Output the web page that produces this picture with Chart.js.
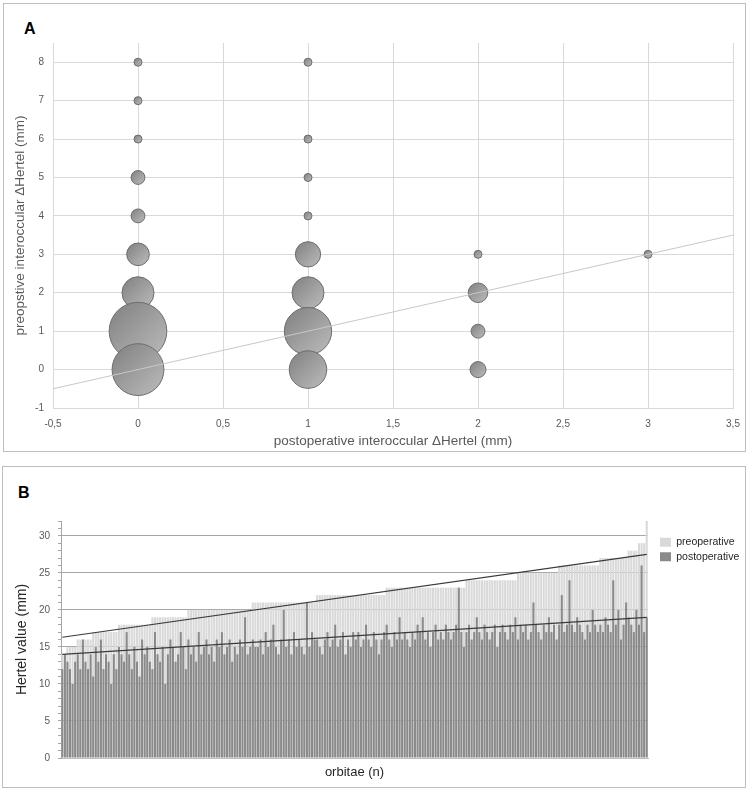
<!DOCTYPE html>
<html>
<head>
<meta charset="utf-8">
<script src="https://cdn.jsdelivr.net/npm/chart.js@4.4.1/dist/chart.umd.min.js"></script>
<style>
  body { margin: 0; background: #fff; width: 749px; height: 792px; position: relative; overflow: hidden; }
  .box { position: absolute; border: 1px solid #bdbdbd; box-sizing: border-box; }
  .tag { position: absolute; font: bold 16px "Liberation Sans Narrow", "Liberation Sans", Arial, sans-serif; line-height: 16px; color: #000; }
  canvas { position: absolute; }
</style>
</head>
<body>
<div class="box" style="left:3px;top:3px;width:743px;height:449px"></div>
<div class="box" style="left:2px;top:466px;width:744px;height:322px"></div>
<div class="tag" style="left:24px;top:21px">A</div>
<div class="tag" style="left:18px;top:485px">B</div>
<canvas id="chartA" width="743" height="449" style="left:3px;top:3px"></canvas>
<canvas id="chartB" width="746" height="320" style="left:3px;top:467px"></canvas>
<script>
Chart.defaults.font.family = "'Liberation Sans', Arial, sans-serif";

// panel A: one bubble per (postoperative, preoperative) interocular difference
const postDiff = [0, 0, 0, 0, 0, 0, 0, 0, 0, 1, 1, 1, 1, 1, 1, 1, 1, 2, 2, 2, 2, 3];
const preDiff  = [8, 7, 6, 5, 4, 3, 2, 1, 0, 8, 6, 5, 4, 3, 2, 1, 0, 3, 2, 1, 0, 3];
const patients = [1, 1, 1, 3, 3, 8, 16, 52, 42, 1, 1, 1, 1, 10, 16, 35, 22, 1, 6, 3, 4, 1];
const fitA = [-0.5, 3.5]; // y = x reference line ends

// panel B: Hertel values per orbit, sorted by preoperative value
const preop = [
  14, 14, 15, 15, 15, 15, 16, 16, 16, 16, 16, 16,
  17, 17, 17, 17, 17, 17, 17, 17, 17, 17,
  18, 18, 18, 18, 18, 18, 18, 18, 18, 18, 18, 18, 18,
  19, 19, 19, 19, 19, 19, 19, 19, 19, 19, 19, 19, 19, 19,
  20, 20, 20, 20, 20, 20, 20, 20, 20, 20, 20, 20, 20, 20, 20, 20, 20, 20, 20, 20, 20, 20, 20, 20, 20,
  21, 21, 21, 21, 21, 21, 21, 21, 21, 21, 21, 21, 21, 21, 21, 21, 21, 21, 21, 21, 21, 21, 21, 21, 21,
  22, 22, 22, 22, 22, 22, 22, 22, 22, 22, 22, 22, 22, 22, 22, 22, 22, 22, 22, 22, 22, 22, 22, 22, 22, 22, 22,
  23, 23, 23, 23, 23, 23, 23, 23, 23, 23, 23, 23, 23, 23, 23, 23, 23, 23, 23, 23, 23, 23, 23, 23, 23, 23, 23, 23, 23, 23, 23,
  24, 24, 24, 24, 24, 24, 24, 24, 24, 24, 24, 24, 24, 24, 24, 24, 24, 24, 24, 24,
  25, 25, 25, 25, 25, 25, 25, 25, 25, 25, 25, 25, 25, 25, 25, 25,
  26, 26, 26, 26, 26, 26, 26, 26, 26, 26, 26, 26, 26, 26, 26, 26,
  27, 27, 27, 27, 27, 27, 27, 27, 27, 27, 27,
  28, 28, 28, 28, 29, 29, 29, 32
];
const postop = [
  12, 14, 13, 12, 10, 13, 14, 12, 16, 13, 12, 14, 11, 15, 13, 16, 12, 14, 13,
  10, 14, 12, 15, 14, 13, 17, 14, 12, 15, 13, 11, 16, 14, 15, 13, 12, 17, 14,
  13, 15, 10, 14, 16, 15, 13, 14, 17, 15, 12, 16, 14, 15, 13, 17, 14, 15, 16,
  14, 15, 13, 16, 15, 17, 14, 15, 16, 13, 15, 14, 16, 15, 19, 14, 15, 16, 15,
  15, 16, 14, 17, 15, 16, 18, 15, 14, 16, 20, 15, 16, 14, 17, 15, 16, 15, 14,
  21, 15, 17, 16, 16, 15, 14, 16, 17, 15, 16, 18, 15, 16, 17, 14, 16, 15, 17,
  16, 17, 15, 16, 18, 16, 15, 17, 16, 14, 16, 17, 18, 16, 15, 17, 16, 19, 16,
  17, 16, 15, 17, 16, 18, 17, 19, 16, 17, 15, 17, 18, 16, 17, 16, 18, 17, 16,
  17, 18, 23, 17, 15, 17, 18, 16, 17, 19, 17, 16, 18, 17, 16, 17, 18, 15, 17,
  18, 17, 16, 18, 17, 19, 16, 18, 17, 18, 16, 17, 21, 18, 17, 16, 18, 17, 19,
  17, 18, 16, 18, 22, 17, 18, 24, 18, 17, 19, 18, 17, 16, 18, 17, 20, 18, 17,
  18, 17, 19, 18, 17, 24, 18, 20, 16, 18, 21, 19, 18, 17, 20, 18, 26, 17, 19
];
const trendPre = [16.3, 27.5];   // linear fit, first and last orbit
const trendPost = [14.0, 19.0];

const N = preop.length;
const orbitae = preop.map((_, i) => i + 1);
const fitLine = (ends) => orbitae.map((_, i) => (i === 0 ? ends[0] : i === N - 1 ? ends[1] : null));

const shade = (c) => {
  const p = c.raw;
  if (!p || !c.chart.chartArea) return '#9a9a9a';
  const x = c.chart.scales.x.getPixelForValue(p.x);
  const y = c.chart.scales.y.getPixelForValue(p.y);
  const g = c.chart.ctx.createLinearGradient(x - p.r, y - p.r, x + p.r, y + p.r);
  g.addColorStop(0, '#808080');
  g.addColorStop(1, '#bcbcbc');
  return g;
};

new Chart(document.getElementById('chartA'), {
  type: 'bubble',
  data: {
    datasets: [
      {
        type: 'line',
        data: fitA.map(v => ({ x: v, y: v })),
        borderColor: '#c8c8c8',
        borderWidth: 1,
        pointRadius: 0,
        order: 0
      },
      {
        data: postDiff.map((x, i) => ({ x: x, y: preDiff[i], r: 4 * Math.sqrt(patients[i]) })),
        backgroundColor: shade,
        borderColor: '#6d6d6d',
        borderWidth: 1,
        order: 1
      }
    ]
  },
  options: {
    responsive: false,
    animation: false,
    events: [],
    layout: { autoPadding: false, padding: { top: 40, right: 13, left: 0, bottom: 0 } },
    plugins: { legend: { display: false }, tooltip: { enabled: false } },
    scales: {
      x: {
        type: 'linear', min: -0.5, max: 3.5,
        ticks: { stepSize: 0.5, color: '#595959', font: { size: 10 }, padding: 10,
                 callback: v => String(v).replace('.', ',') },
        grid: { color: '#d9d9d9', drawTicks: false },
        border: { color: '#d9d9d9' },
        title: { display: true, text: 'postoperative interoccular ΔHertel (mm)', color: '#595959',
                 font: { size: 13.5 }, padding: { top: 0, bottom: 3 } },
        afterFit: s => { s.height = 44; s.paddingLeft = 0; s.paddingRight = 0; }
      },
      y: {
        min: -1, max: 8.5,
        afterBuildTicks: s => { s.ticks = s.ticks.filter(t => Number.isInteger(t.value)); },
        ticks: { stepSize: 1, color: '#595959', font: { size: 10 }, padding: 9 },
        grid: { color: '#d9d9d9', drawTicks: false },
        border: { color: '#d9d9d9' },
        title: { display: true, text: 'preopstive interoccular ΔHertel (mm)', color: '#595959',
                 font: { size: 13.5 }, padding: { top: 9, bottom: 0 } },
        afterFit: s => { s.width = 50; }
      }
    }
  }
});

new Chart(document.getElementById('chartB'), {
  type: 'bar',
  data: {
    labels: orbitae,
    datasets: [
      { label: 'preoperative', data: preop, backgroundColor: '#d9d9d9', borderWidth: 0,
        grouped: false, barPercentage: 0.8, categoryPercentage: 1, order: 3 },
      { label: 'postoperative', data: postop, backgroundColor: '#8a8a8a', borderWidth: 0,
        grouped: false, barPercentage: 0.8, categoryPercentage: 1, order: 2 },
      { type: 'line', data: fitLine(trendPre), spanGaps: true,
        borderColor: '#3a3a3a', borderWidth: 1.2, pointRadius: 0, order: 1 },
      { type: 'line', data: fitLine(trendPost), spanGaps: true,
        borderColor: '#3a3a3a', borderWidth: 1.2, pointRadius: 0, order: 1 }
    ]
  },
  options: {
    responsive: false,
    animation: false,
    events: [],
    layout: { padding: { top: 54, right: 11, left: 0, bottom: 0 } },
    plugins: {
      tooltip: { enabled: false },
      legend: {
        position: 'right', align: 'start', maxWidth: 90,
        labels: { boxWidth: 11, boxHeight: 9, padding: 4, color: '#262626', font: { size: 10.5 },
                  filter: it => it.datasetIndex < 2,
                  sort: (a, b) => a.datasetIndex - b.datasetIndex }
      }
    },
    scales: {
      x: {
        ticks: { display: false },
        grid: { display: false },
        border: { color: '#bfbfbf' },
        title: { display: true, text: 'orbitae (n)', color: '#262626', font: { size: 13 },
                 padding: { top: 0, bottom: 7 } },
        afterFit: s => { s.height = 29; }
      },
      y: {
        min: 0, max: 32,
        ticks: { stepSize: 1, autoSkip: false, padding: 8, color: '#595959', font: { size: 10 },
                 callback: v => (v % 5 === 0 ? v : '') },
        grid: {
          color: c => (c.tick && c.tick.value % 5 === 0 && c.tick.value > 0 && c.tick.value <= 30) ? '#a6a6a6' : 'rgba(0,0,0,0)',
          tickColor: '#a6a6a6', tickLength: 3, lineWidth: 1
        },
        border: { color: '#a6a6a6' },
        title: { display: true, text: 'Hertel value (mm)', color: '#262626', font: { size: 14 },
                 padding: { top: 11, bottom: 0 } },
        afterFit: s => { s.width = 58; }
      }
    }
  },
  plugins: [{
    // move the legend next to the plot, keeping its box (and clip) the same size
    id: 'legendSpot',
    afterLayout(chart) {
      const lg = chart.legend;
      const w = lg.right - lg.left, h = lg.bottom - lg.top;
      lg.left = chart.chartArea.right + 8;
      lg.right = lg.left + w;
      lg.top = chart.chartArea.top + 12;
      lg.bottom = lg.top + h;
    }
  }]
});
</script>
</body>
</html>
